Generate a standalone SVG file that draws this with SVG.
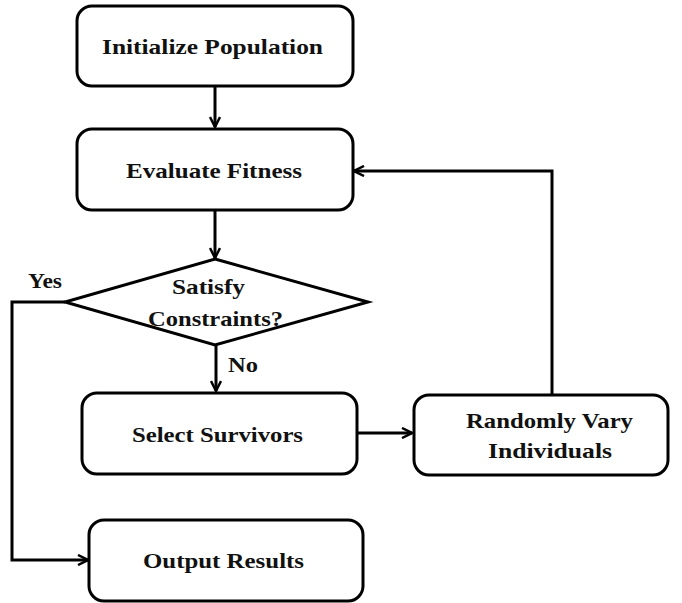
<svg xmlns="http://www.w3.org/2000/svg" width="682" height="603" viewBox="0 0 682 603">
<style>
.box{fill:#fff;stroke:#000;stroke-width:3}
.t{font-family:"Liberation Serif","Times New Roman",serif;font-weight:bold;font-size:22px;fill:#111;text-anchor:middle}
.c{fill:none;stroke:#000;stroke-width:3}
</style>
<defs>
<marker id="ah" viewBox="0 0 12 12" refX="11" refY="6" markerWidth="12" markerHeight="12" markerUnits="userSpaceOnUse" orient="auto">
<path d="M1,1 L11,6 L1,11" fill="none" stroke="#000" stroke-width="2.5"/>
</marker>
</defs>
<rect width="682" height="603" fill="#fff"/>
<g id="connectors">
<path class="c" d="M215,87 V127" marker-end="url(#ah)"/>
<path class="c" d="M215,210 V258" marker-end="url(#ah)"/>
<path class="c" d="M216,345 V391" marker-end="url(#ah)"/>
<path class="c" d="M357,433 H412" marker-end="url(#ah)"/>
<path class="c" d="M552,395 V171 H354" marker-end="url(#ah)"/>
<path class="c" d="M65,302 H12 V560 H88" marker-end="url(#ah)"/>
<text class="t" x="45" y="288" textLength="34" lengthAdjust="spacingAndGlyphs">Yes</text>
<text class="t" x="243" y="372" textLength="30" lengthAdjust="spacingAndGlyphs">No</text>
</g>
<g id="init">
<rect class="box" x="77" y="6" width="276" height="80" rx="15"/>
<text class="t" x="212.5" y="54" textLength="221" lengthAdjust="spacingAndGlyphs">Initialize Population</text>
</g>
<g id="eval">
<rect class="box" x="77" y="129" width="276" height="81" rx="15"/>
<text class="t" x="214" y="178" textLength="176" lengthAdjust="spacingAndGlyphs">Evaluate Fitness</text>
</g>
<g id="decision">
<polygon class="box" points="215,259 368,302 215,345 65,302"/>
<text class="t" x="208.5" y="294" textLength="73" lengthAdjust="spacingAndGlyphs">Satisfy</text>
<text class="t" x="215.5" y="326" textLength="135" lengthAdjust="spacingAndGlyphs">Constraints?</text>
</g>
<g id="select">
<rect class="box" x="82" y="393" width="275" height="81" rx="15"/>
<text class="t" x="217.5" y="442" textLength="171" lengthAdjust="spacingAndGlyphs">Select Survivors</text>
</g>
<g id="vary">
<rect class="box" x="414" y="395" width="254" height="80" rx="15"/>
<text class="t" x="549.5" y="428" textLength="167" lengthAdjust="spacingAndGlyphs">Randomly Vary</text>
<text class="t" x="550" y="458" textLength="124" lengthAdjust="spacingAndGlyphs">Individuals</text>
</g>
<g id="output">
<rect class="box" x="89" y="520" width="274" height="81" rx="15"/>
<text class="t" x="223.5" y="568" textLength="161" lengthAdjust="spacingAndGlyphs">Output Results</text>
</g>
</svg>
